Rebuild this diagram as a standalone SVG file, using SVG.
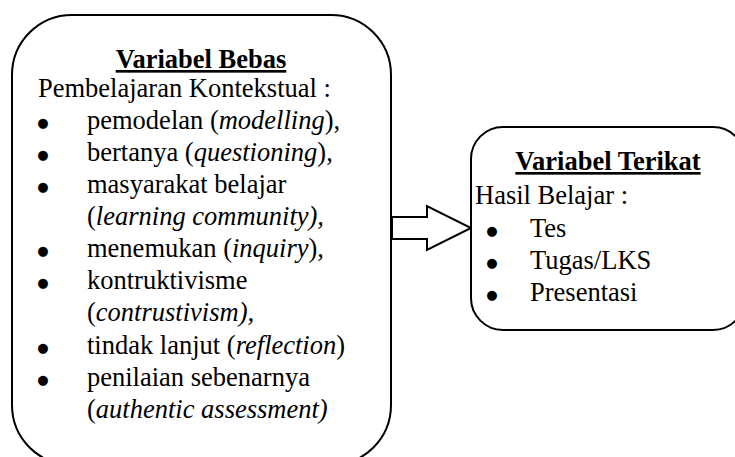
<svg xmlns="http://www.w3.org/2000/svg" width="735" height="457" viewBox="0 0 735 457">
<style>
.box{fill:#fff;stroke:#000;stroke-width:2}
.arrow{fill:#fff;stroke:#000;stroke-width:2;stroke-linejoin:miter}
text{font-family:"Liberation Serif","Times New Roman",serif;font-size:26.5px;fill:#000}
.title{font-weight:bold;text-decoration:underline;text-anchor:middle}
.b{text-anchor:middle;font-family:"DejaVu Sans",sans-serif;font-size:13px}
.i{font-style:italic}
</style>
<rect width="735" height="457" fill="#fff"/>
<g id="variabel-bebas">
<rect class="box" x="12" y="15" width="379" height="450" rx="60" ry="60"/>
<text class="title" x="201" y="68">Variabel Bebas</text>
<text x="38" y="97">Pembelajaran Kontekstual :</text>
<text class="b" x="43" y="127">●</text><text x="87" y="129">pemodelan (<tspan class="i">modelling</tspan>),</text>
<text class="b" x="43" y="159">●</text><text x="87" y="161">bertanya (<tspan class="i">questioning</tspan>),</text>
<text class="b" x="43" y="191">●</text><text x="87" y="193">masyarakat belajar</text>
<text x="87" y="225">(<tspan class="i">learning community),</tspan></text>
<text class="b" x="43" y="255">●</text><text x="87" y="257">menemukan (<tspan class="i">inquiry</tspan>),</text>
<text class="b" x="43" y="287">●</text><text x="87" y="289">kontruktivisme</text>
<text x="87" y="321">(<tspan class="i">contrustivism),</tspan></text>
<text class="b" x="43" y="352">●</text><text x="87" y="354">tindak lanjut (<tspan class="i">reflection</tspan>)</text>
<text class="b" x="43" y="384">●</text><text x="87" y="386">penilaian sebenarnya</text>
<text x="87" y="418">(<tspan class="i">authentic assessment)</tspan></text>
</g>
<g id="connectors">
<polygon class="arrow" points="392,217 427,217 427,206 471,228 427,250 427,239 392,239"/>
</g>
<g id="variabel-terikat">
<rect class="box" x="471" y="127" width="274" height="203" rx="32" ry="32"/>
<text class="title" x="608" y="170">Variabel Terikat</text>
<text x="475" y="204">Hasil Belajar :</text>
<text class="b" x="492" y="235">●</text><text x="530" y="237">Tes</text>
<text class="b" x="492" y="267">●</text><text x="530" y="269">Tugas/LKS</text>
<text class="b" x="492" y="299">●</text><text x="530" y="301">Presentasi</text>
</g>
</svg>
